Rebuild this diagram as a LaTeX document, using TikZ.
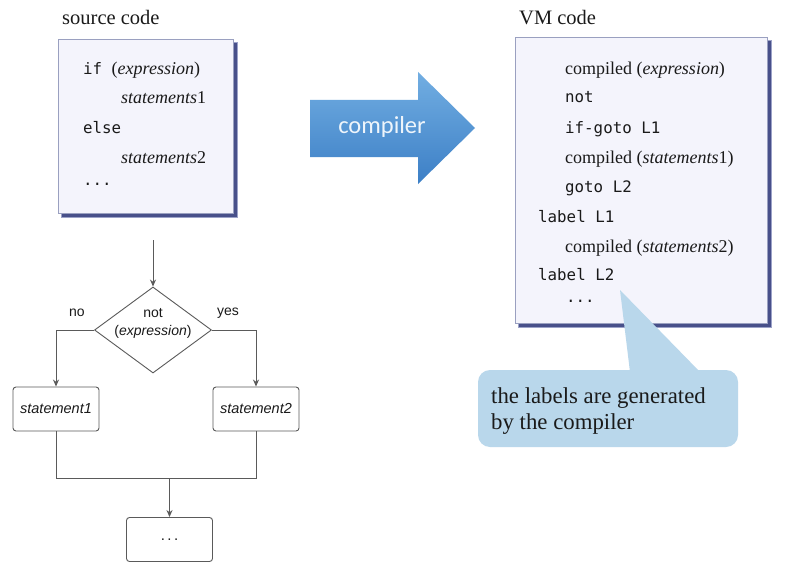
\documentclass[tikz,border=0pt]{standalone}
\usepackage{fontspec}
\setmainfont{Liberation Serif}
\setsansfont{Liberation Sans}
\setmonofont{DejaVu Sans Mono}
\newfontfamily\calib{Carlito}
\usetikzlibrary{shapes.geometric,arrows.meta}
\definecolor{boxfill}{HTML}{F4F4FC}
\definecolor{boxline}{HTML}{9AA0C0}
\definecolor{shadowc}{HTML}{48508A}
\definecolor{shadowl}{HTML}{9CA2C8}
\definecolor{arrtop}{HTML}{72AEE2}
\definecolor{arrbot}{HTML}{3C7FC6}
\definecolor{notefill}{HTML}{B9D7EB}
\definecolor{flowline}{HTML}{5A5A5A}
\definecolor{txt}{HTML}{1A1A1A}
\tikzset{
  codebox/.style={draw=boxline, line width=0.8pt, fill=boxfill},
  title/.style={anchor=base west, inner sep=0, font=\fontsize{20.5}{24}\selectfont, text=txt},
  ser/.style={anchor=base west, inner sep=0, font=\fontsize{18}{21}\selectfont, text=txt},
  mono/.style={anchor=base west, inner sep=0, font=\ttfamily\fontsize{15.8}{19}\selectfont, text=txt},
  fbox/.style={draw=flowline, line width=0.9pt, rounded corners=3pt, fill=white, inner sep=0,
     minimum width=86pt, minimum height=44pt, font=\sffamily\itshape\fontsize{14.5}{17}\selectfont, text=txt},
  fline/.style={draw=flowline, line width=0.9pt},
  farr/.style={fline, -{Stealth[length=7pt,width=6pt]}},
  flab/.style={inner sep=0, font=\sffamily\fontsize{14}{17}\selectfont, text=txt}
}
\begin{document}
\begin{tikzpicture}[x=1pt,y=-1pt]
\useasboundingbox (0,0) rectangle (800,575);
\fill[white] (0,0) rectangle (800,575);

% ---------- source code ----------
\node[title] (srct) at (62,25) {source code};
\fill[shadowl] (61,42) rectangle (238,218);
\fill[shadowc] (62,43) rectangle (237,217);
\draw[codebox] (58,39) rectangle (233,213);
\node[mono] (s1l) at (83,75) {if \normalfont\fontsize{18}{21}\selectfont(\textit{expression})};
\node[ser] (s2l) at (121,104) {\textit{statements}1};
\node[mono] (s3l) at (83,133) {else};
\node[ser] (s4l) at (121,163) {\textit{statements}2};
\node[mono] (s5l) at (83,185) {...};

% ---------- VM code ----------
\node[title] (vmt) at (519,25) {VM code};
\fill[shadowl] (518,40) rectangle (772,328);
\fill[shadowc] (519,41) rectangle (771,327);
\draw[codebox] (515,37) rectangle (767,323);
\node[ser]  (v1) at (565,75)  {compiled (\textit{expression})};
\node[mono] (v2) at (565,103) {not};
\node[mono] (v3) at (565,133) {if-goto L1};
\node[ser]  (v4) at (565,163) {compiled (\textit{statements}1)};
\node[mono] (v5) at (565,192) {goto L2};
\node[mono] (v6) at (538,222) {label L1};
\node[ser]  (v7) at (565,252) {compiled (\textit{statements}2)};
\node[mono] (v8) at (538,280) {label L2};
\node[mono] (v9) at (566,302) {...};

% ---------- compiler arrow ----------
\shade[top color=arrtop, bottom color=arrbot]
  (310,100) -- (418,100) -- (418,72) -- (475,128) -- (418,184) -- (418,157) -- (310,157) -- cycle;
\node[inner sep=0, font=\calib\fontsize{24.5}{28}\selectfont, text=white!88!arrtop] (comp) at (382,127) {compiler};

% ---------- callout ----------
\node[fill=notefill, rounded corners=12pt, minimum width=260pt, minimum height=77pt, inner sep=0] (note) at (608,408.5) {};
\coordinate (tip) at (620,290);
\fill[notefill] (630,372) -- (tip) -- (700,372) -- cycle;
\node[anchor=base west, inner sep=0, align=left, font=\fontsize{22.8}{25.5}\selectfont, text=txt] (notet) at (491,429) {the labels are generated\\by the compiler};

% ---------- flowchart ----------
\coordinate (start) at (153,240);
\node[diamond, fline, fill=white, minimum width=117pt, minimum height=86pt, inner sep=0] (dia) at (153,330) {};
\node[flab, align=center] (diat) at (153,323) {not\\[1pt](\textit{expression})};
\node[fbox] (st1) at (56,409) {statement1};
\node[fbox] (st2) at (256,409) {statement2};
\node[fbox, font=\sffamily\fontsize{15}{16}\selectfont] (dots) at (169.5,539.5) {.\,.\,.};
\node[flab] (no) at (77,313) {no};
\node[flab] (yes) at (228,313) {yes};
\coordinate (join) at (169.5,478);

\draw[farr] (start) -- (dia.north);
\draw[farr] (dia.west) -| (st1.north);
\draw[farr] (dia.east) -| (st2.north);
\draw[fline] (st1.south) -- (st1.south |- join) -- (st2.south |- join) -- (st2.south);
\draw[farr] (join) -- (dots.north);
\end{tikzpicture}
\end{document}
